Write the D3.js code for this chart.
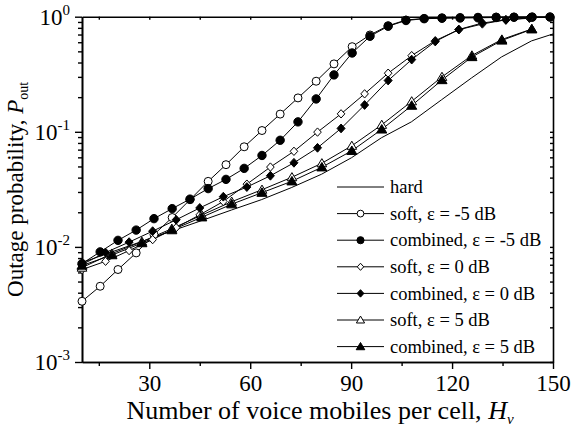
<!DOCTYPE html>
<html>
<head>
<meta charset="utf-8">
<script src="https://cdn.jsdelivr.net/npm/d3@7"></script>
<style>
  body { margin: 0; background: #fff; }
  svg { display: block; }
  text { font-family: "Liberation Serif", "Times New Roman", serif; fill: #000; }
</style>
</head>
<body>
<div id="chart"></div>
<script>
// marker positions differ per curve family (circles, diamonds, triangles)
var hCircle = [10, 15.4, 20.7, 26.1, 31.4, 36.8, 42.1, 47.5, 52.8, 58.2, 63.5, 68.9, 74.2, 79.6, 84.9,
  90.3, 95.6, 101.0, 106.3, 111.7, 117.0, 122.4, 127.7, 133.1, 138.4, 143.8, 149.1];
var pSoftM5 = [0.00337, 0.00455, 0.00636, 0.00887, 0.0128, 0.0180, 0.0257, 0.0371, 0.0518, 0.0741,
  0.1026, 0.1425, 0.197, 0.275, 0.389, 0.549, 0.694, 0.835, 0.936, 0.965, 0.978, 0.984, 0.990, 0.994, 0.994, 0.996, 0.997];
var pCombM5 = [0.00716, 0.00905, 0.0114, 0.0140, 0.0176, 0.0215, 0.0260, 0.0321, 0.0386, 0.0481,
  0.0623, 0.0844, 0.122, 0.193, 0.312, 0.484, 0.676, 0.826, 0.927, 0.961, 0.969, 0.974, 0.978, 0.984, 0.988, 0.990, 0.992];

var hDiamond = [10, 17, 24, 31, 38, 45, 52, 59, 66, 73, 80, 87, 94, 101, 108, 115, 122, 129, 136, 143];
var pSoft0 = [0.00635, 0.0075, 0.00929, 0.01157, 0.0147, 0.0190, 0.0248, 0.0351, 0.0494, 0.0677,
  0.0994, 0.1432, 0.2136, 0.323, 0.459, 0.619, 0.771, 0.864, 0.942, 0.969];
var pComb0 = [0.00703, 0.00893, 0.0110, 0.0137, 0.0172, 0.0218, 0.0273, 0.0331, 0.0415, 0.0538,
  0.0726, 0.107, 0.171, 0.279, 0.424, 0.609, 0.774, 0.882, 0.936, 0.978];

var hTriangle = [10, 18.9, 27.8, 36.7, 45.6, 54.5, 63.5, 72.4, 81.3, 90.2, 99.1, 108.0, 117.0, 125.9, 134.8, 143.7];
var pSoft5 = [0.0066, 0.00875, 0.0111, 0.0144, 0.0189, 0.0247, 0.0314, 0.0403, 0.0533, 0.0756,
  0.115, 0.184, 0.300, 0.461, 0.634, 0.782];
var pComb5 = [0.00689, 0.00849, 0.0108, 0.0140, 0.0181, 0.0235, 0.0296, 0.0372, 0.0492, 0.0684,
  0.105, 0.169, 0.282, 0.447, 0.622, 0.778];

var hHard = [10, 18.7, 27.6, 36.5, 45.5, 54.4, 63.3, 72.2, 81.2, 90.1, 99.0, 107.9, 116.9, 125.8, 134.7, 143.6, 150];
var pHard = [0.00731, 0.00901, 0.0111, 0.0137, 0.0169, 0.0209, 0.0257, 0.0327, 0.0428, 0.0595,
  0.0887, 0.122, 0.190, 0.294, 0.447, 0.616, 0.708];

var legendLabels = ["hard", "soft, \u03b5 = -5 dB", "combined, \u03b5 = -5 dB", "soft, \u03b5 = 0 dB",
  "combined, \u03b5 = 0 dB", "soft, \u03b5 = 5 dB", "combined, \u03b5 = 5 dB"];
var xTicks = [30, 60, 90, 120, 150];
var xMinorTicks = [15, 45, 75, 105, 135];
var yTicks = [1e-3, 1e-2, 1e-1, 1];

var width = 571, height = 433;
var margin = {top: 16.7, right: 18, bottom: 71, left: 82};

var svg = d3.select("#chart").append("svg")
  .attr("width", width)
  .attr("height", height);

var x = d3.scaleLinear().domain([10, 150]).range([margin.left, width - margin.right]);
var y = d3.scaleLog().domain([1e-3, 1]).range([height - margin.bottom, margin.top]);

var yMinor = [];
[1e-3, 1e-2, 1e-1].forEach(function(dec) {
  for (var m = 2; m <= 9; m++) yMinor.push(dec * m);
});

//axes
function styleAxis(g) {
  g.selectAll("path, line").attr("stroke", "#000").attr("stroke-width", 1.4);
  g.select(".domain").attr("stroke-width", 1.6);
}

var gx = svg.append("g")
  .attr("transform", "translate(0," + y.range()[0] + ")")
  .call(d3.axisBottom(x).tickValues(xTicks).tickSize(7).tickSizeOuter(0).tickPadding(6).tickFormat(d3.format("d")))
  .call(styleAxis);
gx.selectAll("text").style("font-size", "23px");

svg.append("g")
  .attr("transform", "translate(0," + y.range()[0] + ")")
  .call(d3.axisBottom(x).tickValues(xMinorTicks).tickSize(4).tickSizeOuter(0).tickFormat(""))
  .call(styleAxis);

svg.append("g")
  .attr("transform", "translate(0," + margin.top + ")")
  .call(d3.axisTop(x).tickValues(xTicks.concat(xMinorTicks)).tickSize(-3).tickSizeOuter(0).tickFormat(""))
  .call(styleAxis);

var gy = svg.append("g")
  .attr("transform", "translate(" + margin.left + ",0)")
  .call(d3.axisLeft(y).tickValues(yTicks).tickSize(7).tickSizeOuter(0).tickPadding(5).tickFormat(""))
  .call(styleAxis);

gy.selectAll(".tick text").each(function(d) {
  var t = d3.select(this).style("font-size", "23px");
  t.append("tspan").text("10");
  t.append("tspan").attr("dy", -10).style("font-size", "15px").text(Math.round(Math.log10(d)));
});

svg.append("g")
  .attr("transform", "translate(" + margin.left + ",0)")
  .call(d3.axisLeft(y).tickValues(yMinor).tickSize(4).tickSizeOuter(0).tickFormat(""))
  .call(styleAxis);

svg.append("g")
  .attr("transform", "translate(" + (width - margin.right) + ",0)")
  .call(d3.axisRight(y).tickValues(yTicks.concat(yMinor)).tickSize(-3).tickSizeOuter(0).tickFormat(""))
  .call(styleAxis);

//axis titles
var yTitle = svg.append("text")
  .attr("transform", "translate(23," + ((margin.top + y.range()[0]) / 2) + ") rotate(-90)")
  .attr("text-anchor", "middle")
  .style("font-size", "23px");
yTitle.append("tspan").text("Outage probability, ");
yTitle.append("tspan").style("font-style", "italic").text("P");
yTitle.append("tspan").attr("dy", 5).style("font-size", "14px").text("out");

var xTitle = svg.append("text")
  .attr("x", 320)
  .attr("y", 419)
  .attr("text-anchor", "middle")
  .style("font-size", "26px");
xTitle.append("tspan").text("Number of voice mobiles per cell, ");
xTitle.append("tspan").style("font-style", "italic").text("H");
xTitle.append("tspan").attr("dy", 5).style("font-size", "15px").style("font-style", "italic").text("v");

//markers
var shapes = {
  circle: function(s) { return "M" + s + ",0A" + s + "," + s + " 0 1,1 " + (-s) + ",0A" + s + "," + s + " 0 1,1 " + s + ",0Z"; },
  diamond: function(s) { return "M0," + (-s * 1.1) + "L" + s + ",0L0," + (s * 1.1) + "L" + (-s) + ",0Z"; },
  triangle: function(s) { return "M0," + (-s * 1.05) + "L" + (s * 1.1) + "," + (s * 0.8) + "L" + (-s * 1.1) + "," + (s * 0.8) + "Z"; }
};

var series = [
  {h: hHard, p: pHard, shape: null},
  {h: hCircle, p: pSoftM5, shape: "circle", fill: false, size: 4},
  {h: hCircle, p: pCombM5, shape: "circle", fill: true, size: 4.2},
  {h: hDiamond, p: pSoft0, shape: "diamond", fill: false, size: 3.8},
  {h: hDiamond, p: pComb0, shape: "diamond", fill: true, size: 4},
  {h: hTriangle, p: pSoft5, shape: "triangle", fill: false, size: 4.4},
  {h: hTriangle, p: pComb5, shape: "triangle", fill: true, size: 4.6}
];

var line = d3.line()
  .x(function(d) { return x(d[0]); })
  .y(function(d) { return y(d[1]); });

var plot = svg.append("g");

series.forEach(function(s) {
  var pts = s.h.map(function(h, i) { return [h, s.p[i]]; });
  plot.append("path")
    .datum(pts)
    .attr("d", line)
    .attr("fill", "none")
    .attr("stroke", "#000")
    .attr("stroke-width", 1);
});

series.forEach(function(s) {
  if (!s.shape) return;
  var pts = s.h.map(function(h, i) { return [h, s.p[i]]; });
  plot.selectAll(null)
    .data(pts)
    .enter()
    .append("path")
    .attr("transform", function(d) { return "translate(" + x(d[0]) + "," + y(d[1]) + ")"; })
    .attr("d", shapes[s.shape](s.size))
    .attr("fill", s.fill ? "#000" : "#fff")
    .attr("stroke", "#000")
    .attr("stroke-width", 1);
});

//legend
var legend = svg.append("g");
legendLabels.forEach(function(label, i) {
  var s = series[i];
  var ly = 187 + i * 26.6;
  legend.append("line")
    .attr("x1", 337).attr("x2", 384)
    .attr("y1", ly).attr("y2", ly)
    .attr("stroke", "#000")
    .attr("stroke-width", 1);
  if (s.shape) {
    legend.append("path")
      .attr("transform", "translate(360.5," + ly + ")")
      .attr("d", shapes[s.shape](s.size * 0.85))
      .attr("fill", s.fill ? "#000" : "#fff")
      .attr("stroke", "#000")
      .attr("stroke-width", 1);
  }
  legend.append("text")
    .attr("x", 390)
    .attr("y", ly)
    .attr("dy", "0.33em")
    .style("font-size", "18.5px")
    .text(label);
});
</script>
</body>
</html>
